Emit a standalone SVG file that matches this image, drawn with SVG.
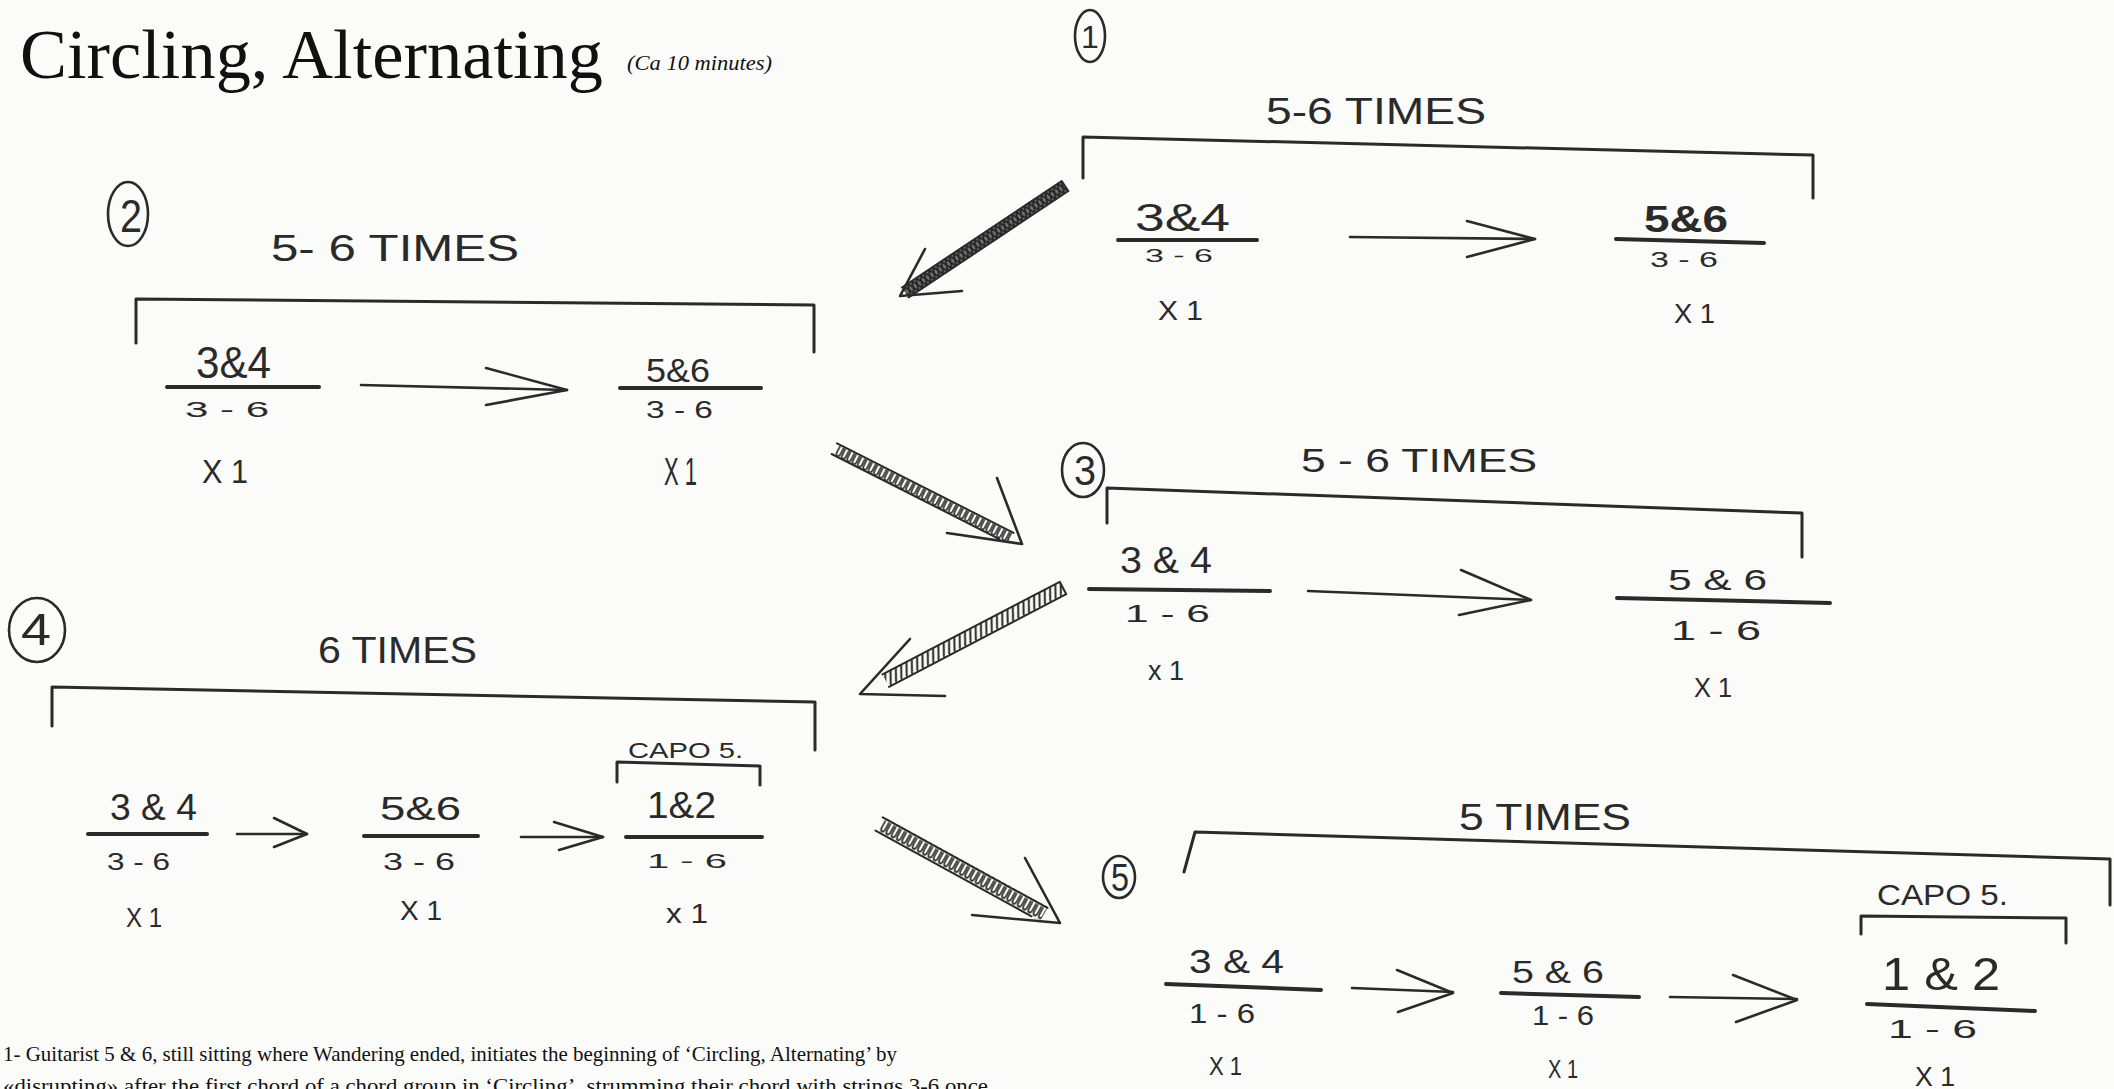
<svg xmlns="http://www.w3.org/2000/svg" width="2114" height="1089" viewBox="0 0 2114 1089">
<style>
.hw{font-family:"Liberation Sans Narrow","Liberation Sans","DejaVu Sans",sans-serif;fill:#2a2a2a}
.ink{fill:none;stroke:#2a2a2a;stroke-linecap:round;stroke-linejoin:round}
.br{stroke-width:3}
.bar{stroke-width:4}
.ar{stroke-width:2.6}
.ring{stroke-width:2.6}
.serif{font-family:"Liberation Serif","Times New Roman",serif;fill:#111}
</style>
<defs>
<pattern id="coil" patternUnits="userSpaceOnUse" x="0" y="-6" width="6" height="12">
<path d="M1,1 L1,7.5 Q1,11 3,11 Q5,11 5,7.5 L5,1" fill="none" stroke="#2a2a2a" stroke-width="1.6"/>
</pattern>
<pattern id="hatch" patternUnits="userSpaceOnUse" x="0" y="-7" width="6" height="14">
<path d="M-1,14 L6,0 M5,14 L12,0" fill="none" stroke="#2a2a2a" stroke-width="2"/>
</pattern>
<pattern id="xhatch" patternUnits="userSpaceOnUse" x="0" y="-6" width="5" height="12">
<rect x="0" y="0" width="5" height="12" fill="#777"/>
<path d="M0,12 L5,0 M0,0 L5,12" fill="none" stroke="#222" stroke-width="1.8"/>
</pattern>
</defs>
<rect x="0" y="0" width="2114" height="1089" fill="#fbfbfa"/>

<g id="title">
<text class="serif" x="20" y="78" font-size="70" textLength="583" lengthAdjust="spacingAndGlyphs">Circling, Alternating</text>
<text class="serif" x="627" y="70" font-size="21" font-style="italic" textLength="145" lengthAdjust="spacingAndGlyphs">(Ca 10 minutes)</text>
</g>

<g id="step1">
<ellipse class="ink ring" cx="1090" cy="36" rx="15" ry="26"/>
<text class="hw" x="1090" y="48" font-size="32" text-anchor="middle">1</text>
<text class="hw" x="1266" y="124" font-size="36" textLength="220" lengthAdjust="spacingAndGlyphs">5-6 TIMES</text>
<path class="ink br" d="M1083,178 L1083,137 L1813,155 L1813,198"/>
<g id="step1-chord-a">
<text class="hw" x="1135" y="231" font-size="38" textLength="95" lengthAdjust="spacingAndGlyphs">3&amp;4</text>
<line class="ink bar" x1="1118" y1="240" x2="1257" y2="240"/>
<text class="hw" x="1145" y="262" font-size="18" textLength="68" lengthAdjust="spacingAndGlyphs">3 - 6</text>
<text class="hw" x="1158" y="320" font-size="28" textLength="45" lengthAdjust="spacingAndGlyphs">X 1</text>
</g>
<g id="step1-chord-b">
<text class="hw" x="1644" y="232" font-size="36" font-weight="bold" textLength="84" lengthAdjust="spacingAndGlyphs">5&amp;6</text>
<line class="ink bar" x1="1616" y1="239" x2="1764" y2="243"/>
<text class="hw" x="1650" y="267" font-size="22" textLength="68" lengthAdjust="spacingAndGlyphs">3 - 6</text>
<text class="hw" x="1674" y="323" font-size="28" textLength="41" lengthAdjust="spacingAndGlyphs">X 1</text>
</g>
</g>

<g id="step2">
<ellipse class="ink ring" cx="128" cy="214" rx="20" ry="32"/>
<text class="hw" x="131" y="232" font-size="46" text-anchor="middle" textLength="22" lengthAdjust="spacingAndGlyphs">2</text>
<text class="hw" x="271" y="261" font-size="36" textLength="248" lengthAdjust="spacingAndGlyphs">5- 6 TIMES</text>
<path class="ink br" d="M136,343 L136,299 L814,305 L814,352"/>
<g id="step2-chord-a">
<text class="hw" x="196" y="378" font-size="44" textLength="75" lengthAdjust="spacingAndGlyphs">3&amp;4</text>
<line class="ink bar" x1="167" y1="387" x2="319" y2="387"/>
<text class="hw" x="185" y="417" font-size="22" textLength="84" lengthAdjust="spacingAndGlyphs">3 - 6</text>
<text class="hw" x="202" y="483" font-size="34" textLength="46" lengthAdjust="spacingAndGlyphs">X 1</text>
</g>
<g id="step2-chord-b">
<text class="hw" x="646" y="382" font-size="34" textLength="64" lengthAdjust="spacingAndGlyphs">5&amp;6</text>
<line class="ink bar" x1="620" y1="388" x2="761" y2="388"/>
<text class="hw" x="646" y="418" font-size="24" textLength="67" lengthAdjust="spacingAndGlyphs">3 - 6</text>
<text class="hw" x="664" y="485" font-size="38" textLength="33" lengthAdjust="spacingAndGlyphs">X 1</text>
</g>
</g>

<g id="step3">
<ellipse class="ink ring" cx="1083" cy="470" rx="21" ry="27"/>
<text class="hw" x="1085" y="485" font-size="42" text-anchor="middle" textLength="22" lengthAdjust="spacingAndGlyphs">3</text>
<text class="hw" x="1301" y="472" font-size="34" textLength="236" lengthAdjust="spacingAndGlyphs">5 - 6 TIMES</text>
<path class="ink br" d="M1107,523 L1107,488 L1802,513 L1802,557"/>
<g id="step3-chord-a">
<text class="hw" x="1120" y="573" font-size="36" textLength="92" lengthAdjust="spacingAndGlyphs">3 &amp; 4</text>
<line class="ink bar" x1="1089" y1="589" x2="1270" y2="591"/>
<text class="hw" x="1125" y="622" font-size="24" textLength="85" lengthAdjust="spacingAndGlyphs">1 - 6</text>
<text class="hw" x="1148" y="680" font-size="28" textLength="36" lengthAdjust="spacingAndGlyphs">x 1</text>
</g>
<g id="step3-chord-b">
<text class="hw" x="1668" y="590" font-size="30" textLength="99" lengthAdjust="spacingAndGlyphs">5 &amp; 6</text>
<line class="ink bar" x1="1617" y1="598" x2="1830" y2="603"/>
<text class="hw" x="1671" y="640" font-size="28" textLength="90" lengthAdjust="spacingAndGlyphs">1 - 6</text>
<text class="hw" x="1694" y="697" font-size="28" textLength="38" lengthAdjust="spacingAndGlyphs">X 1</text>
</g>
</g>

<g id="step4">
<ellipse class="ink ring" cx="37" cy="630" rx="28" ry="32"/>
<text class="hw" x="36" y="645" font-size="44" text-anchor="middle" textLength="30" lengthAdjust="spacingAndGlyphs">4</text>
<text class="hw" x="318" y="663" font-size="36" textLength="159" lengthAdjust="spacingAndGlyphs">6 TIMES</text>
<path class="ink br" d="M52,726 L52,687 L815,702 L815,750"/>
<g id="step4-chord-a">
<text class="hw" x="110" y="820" font-size="36" textLength="87" lengthAdjust="spacingAndGlyphs">3 &amp; 4</text>
<line class="ink bar" x1="88" y1="834" x2="207" y2="834"/>
<text class="hw" x="107" y="870" font-size="24" textLength="63" lengthAdjust="spacingAndGlyphs">3 - 6</text>
<text class="hw" x="126" y="927" font-size="28" textLength="36" lengthAdjust="spacingAndGlyphs">X 1</text>
</g>
<g id="step4-chord-b">
<text class="hw" x="380" y="820" font-size="34" textLength="81" lengthAdjust="spacingAndGlyphs">5&amp;6</text>
<line class="ink bar" x1="364" y1="836" x2="478" y2="836"/>
<text class="hw" x="383" y="870" font-size="24" textLength="72" lengthAdjust="spacingAndGlyphs">3 - 6</text>
<text class="hw" x="400" y="920" font-size="28" textLength="42" lengthAdjust="spacingAndGlyphs">X 1</text>
</g>
<g id="step4-chord-c">
<text class="hw" x="628" y="758" font-size="22" textLength="115" lengthAdjust="spacingAndGlyphs">CAPO 5.</text>
<path class="ink br" d="M617,782 L617,762 L760,766 L760,785"/>
<text class="hw" x="647" y="818" font-size="36" textLength="69" lengthAdjust="spacingAndGlyphs">1&amp;2</text>
<line class="ink bar" x1="626" y1="837" x2="762" y2="837"/>
<text class="hw" x="647" y="868" font-size="20" textLength="80" lengthAdjust="spacingAndGlyphs">1 - 6</text>
<text class="hw" x="666" y="923" font-size="28" textLength="42" lengthAdjust="spacingAndGlyphs">x 1</text>
</g>
</g>

<g id="step5">
<ellipse class="ink ring" cx="1119" cy="877" rx="16" ry="21"/>
<text class="hw" x="1120" y="891" font-size="38" text-anchor="middle" textLength="18" lengthAdjust="spacingAndGlyphs">5</text>
<text class="hw" x="1459" y="830" font-size="36" textLength="172" lengthAdjust="spacingAndGlyphs">5 TIMES</text>
<path class="ink br" d="M1184,872 L1195,832 L2110,859 L2110,905"/>
<g id="step5-chord-a">
<text class="hw" x="1189" y="973" font-size="34" textLength="95" lengthAdjust="spacingAndGlyphs">3 &amp; 4</text>
<line class="ink bar" x1="1166" y1="984" x2="1321" y2="990"/>
<text class="hw" x="1189" y="1023" font-size="28" textLength="66" lengthAdjust="spacingAndGlyphs">1 - 6</text>
<text class="hw" x="1209" y="1075" font-size="26" textLength="33" lengthAdjust="spacingAndGlyphs">X 1</text>
</g>
<g id="step5-chord-b">
<text class="hw" x="1512" y="983" font-size="32" textLength="92" lengthAdjust="spacingAndGlyphs">5 &amp; 6</text>
<line class="ink bar" x1="1501" y1="993" x2="1639" y2="997"/>
<text class="hw" x="1532" y="1025" font-size="28" textLength="62" lengthAdjust="spacingAndGlyphs">1 - 6</text>
<text class="hw" x="1548" y="1078" font-size="26" textLength="30" lengthAdjust="spacingAndGlyphs">X 1</text>
</g>
<g id="step5-chord-c">
<text class="hw" x="1877" y="905" font-size="30" textLength="131" lengthAdjust="spacingAndGlyphs">CAPO 5.</text>
<path class="ink br" d="M1861,934 L1861,916 L2066,918 L2066,943"/>
<text class="hw" x="1882" y="990" font-size="46" textLength="118" lengthAdjust="spacingAndGlyphs">1 &amp; 2</text>
<line class="ink bar" x1="1867" y1="1004" x2="2035" y2="1011"/>
<text class="hw" x="1888" y="1038" font-size="26" textLength="89" lengthAdjust="spacingAndGlyphs">1 - 6</text>
<text class="hw" x="1915" y="1086" font-size="28" textLength="40" lengthAdjust="spacingAndGlyphs">X 1</text>
</g>
</g>

<g id="connectors">
<g id="inner-arrows">
<line class="ink ar" x1="1350" y1="237" x2="1535" y2="239"/>
<polyline class="ink ar" points="1467,221 1535,239 1467,257"/>
<line class="ink ar" x1="361" y1="385" x2="567" y2="390"/>
<polyline class="ink ar" points="486,368 567,390 486,405"/>
<line class="ink ar" x1="1308" y1="591" x2="1531" y2="600"/>
<polyline class="ink ar" points="1461,570 1531,600 1459,615"/>
<line class="ink ar" x1="237" y1="834" x2="307" y2="834"/>
<polyline class="ink ar" points="274,818 307,834 274,847"/>
<line class="ink ar" x1="521" y1="837" x2="603" y2="837"/>
<polyline class="ink ar" points="554,822 603,837 559,850"/>
<line class="ink ar" x1="1352" y1="988" x2="1453" y2="992"/>
<polyline class="ink ar" points="1397,970 1453,993 1398,1012"/>
<line class="ink ar" x1="1670" y1="997" x2="1797" y2="999"/>
<polyline class="ink ar" points="1733,975 1797,1000 1736,1022"/>
</g>
<g id="arrow-1-2">
<g transform="translate(1065,186) rotate(146.3)">
<rect x="0" y="-6" width="192" height="12" fill="url(#xhatch)"/>
<path class="ink" stroke-width="2" d="M0,-6 L192,-6 M0,6 L192,6 M0,-6 L0,6"/>
</g>
<polyline class="ink ar" points="925,249 900,296 962,291"/>
</g>
<g id="arrow-2-3">
<g transform="translate(837,450) rotate(26.9)">
<rect x="0" y="-6" width="195" height="12" fill="url(#coil)"/>
<path class="ink" stroke-width="2" d="M-3,-6 L195,-6 M-3,6 L185,6"/>
</g>
<polyline class="ink ar" points="997,478 1022,544 947,533"/>
</g>
<g id="arrow-3-4">
<g transform="translate(1063,588) rotate(152.4)">
<rect x="0" y="-7" width="200" height="14" fill="url(#hatch)"/>
<path class="ink" stroke-width="2" d="M0,-7 L200,-7 M0,7 L200,7 M0,-7 L0,7"/>
</g>
<polyline class="ink ar" points="910,639 860,694 945,696"/>
</g>
<g id="arrow-4-5">
<g transform="translate(882,825) rotate(28.8)">
<rect x="0" y="-7" width="185" height="14" fill="url(#coil)" transform="scale(1,1.15)"/>
<path class="ink" stroke-width="2" d="M-3,-7 L185,-7 M-3,8 L175,8"/>
</g>
<polyline class="ink ar" points="1025,858 1060,923 972,915"/>
</g>
</g>

<g id="notes">
<text class="serif" x="3" y="1061" font-size="21" textLength="894" lengthAdjust="spacingAndGlyphs">1- Guitarist 5 &amp; 6, still sitting where Wandering ended, initiates the beginning of ‘Circling, Alternating’ by</text>
<text class="serif" x="3" y="1093" font-size="21" textLength="985" lengthAdjust="spacingAndGlyphs">«disrupting» after the first chord of a chord group in ‘Circling’, strumming their chord with strings 3-6 once</text>
</g>
</svg>
